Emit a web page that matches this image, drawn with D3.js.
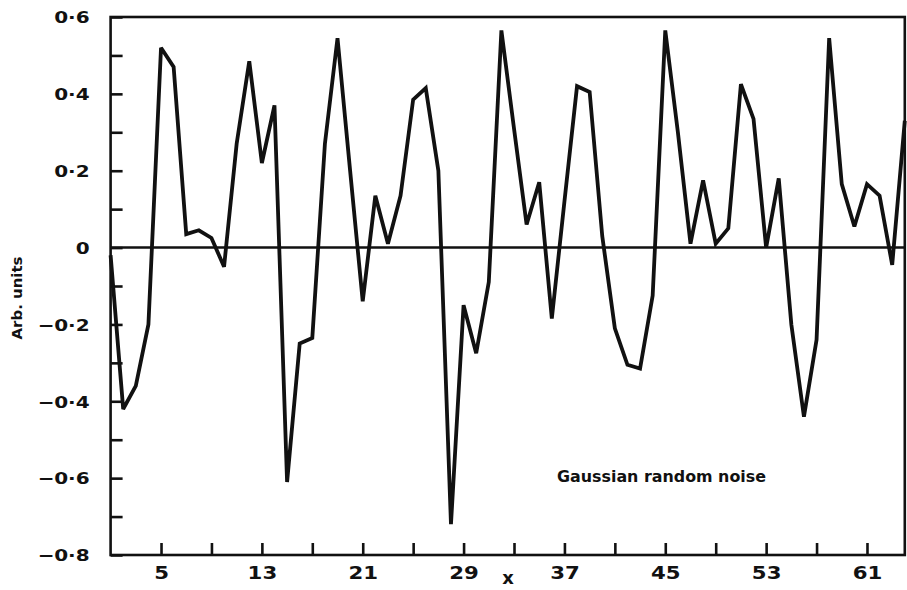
<!DOCTYPE html>
<html>
<head>
<meta charset="utf-8">
<script src="https://cdn.jsdelivr.net/npm/d3@7"></script>
<style>
  html, body { margin: 0; padding: 0; background: #fff; }
  svg { display: block; }
  text { font-family: "DejaVu Sans", "Liberation Sans", sans-serif; font-weight: bold; fill: #111; }
</style>
</head>
<body>
<svg id="chart" width="907" height="590"></svg>
<script>
// Sample index (x) and noise amplitude (arbitrary units)
const sampleIndex = d3.range(1, 65);
const noiseValues = [
  -0.02, -0.42, -0.36, -0.20, 0.52, 0.47, 0.035, 0.045, 0.025, -0.05,
  0.27, 0.485, 0.22, 0.37, -0.61, -0.25, -0.235, 0.27, 0.545, 0.20,
  -0.14, 0.135, 0.01, 0.135, 0.385, 0.415, 0.20, -0.72, -0.15, -0.275,
  -0.09, 0.565, 0.31, 0.06, 0.17, -0.185, 0.12, 0.42, 0.405, 0.03,
  -0.21, -0.305, -0.315, -0.125, 0.565, 0.30, 0.01, 0.175, 0.01, 0.05,
  0.425, 0.335, 0.0, 0.18, -0.20, -0.44, -0.24, 0.545, 0.165, 0.055,
  0.165, 0.135, -0.045, 0.33
];
const xTickValues = [5, 9, 13, 17, 21, 25, 29, 33, 37, 41, 45, 49, 53, 57, 61];
const xTickLabels = [5, 13, 21, 29, 37, 45, 53, 61];
const yTickValues = [-0.8, -0.7, -0.6, -0.5, -0.4, -0.3, -0.2, -0.1, 0, 0.1, 0.2, 0.3, 0.4, 0.5, 0.6];
const yTickLabels = [-0.8, -0.6, -0.4, -0.2, 0, 0.2, 0.4, 0.6];

const svg = d3.select("#chart");
const ink = "#111";

const x = d3.scaleLinear().domain([1, 64]).range([110.6, 904.8]);
const y = d3.scaleLinear().domain([-0.8, 0.6]).range([555, 17]);

const isLabelled = (list, v) => list.some(t => Math.abs(t - v) < 1e-9);
const fmtY = v => {
  if (Math.abs(v) < 1e-9) return "0";
  return (v < 0 ? "\u22120\u00b7" : "0\u00b7") + Math.round(Math.abs(v) * 10);
};

// Left axis: inward ticks every 0.1, labels every 0.2
const yAxis = svg.append("g")
  .attr("transform", `translate(${x(1)},0)`)
  .call(d3.axisLeft(y)
    .tickValues(yTickValues)
    .tickSizeInner(-12)
    .tickSizeOuter(0)
    .tickPadding(21)
    .tickFormat(v => isLabelled(yTickLabels, v) ? fmtY(v) : ""));
yAxis.select(".domain").remove();
yAxis.selectAll(".tick line").attr("stroke", ink).attr("stroke-width", 2.6);
yAxis.selectAll(".tick text")
  .attr("fill", ink)
  .style("font-size", "16px")
  .attr("dy", "0.36em");

// Bottom axis: inward ticks every 4, labels every 8
const xAxis = svg.append("g")
  .attr("transform", `translate(0,${y(-0.8)})`)
  .call(d3.axisBottom(x)
    .tickValues(xTickValues)
    .tickSizeInner(-12)
    .tickSizeOuter(0)
    .tickPadding(12)
    .tickFormat(v => xTickLabels.includes(v) ? String(v) : ""));
xAxis.select(".domain").remove();
xAxis.selectAll(".tick line").attr("stroke", ink).attr("stroke-width", 2.6);
xAxis.selectAll(".tick text")
  .attr("fill", ink)
  .style("font-size", "17px");

// Widen the heavy tick lettering
svg.selectAll(".tick text").each(function () {
  const w = this.getComputedTextLength();
  if (w > 0) d3.select(this).attr("textLength", w * 1.25).attr("lengthAdjust", "spacingAndGlyphs");
});

// Frame
svg.append("rect")
  .attr("x", x(1)).attr("y", y(0.6))
  .attr("width", x(64) - x(1)).attr("height", y(-0.8) - y(0.6))
  .attr("fill", "none").attr("stroke", ink).attr("stroke-width", 2.6);

// Zero line
svg.append("line")
  .attr("x1", x(1)).attr("x2", x(64))
  .attr("y1", y(0)).attr("y2", y(0))
  .attr("stroke", ink).attr("stroke-width", 2.4);

// Noise trace
const line = d3.line()
  .x((d, i) => x(sampleIndex[i]))
  .y(d => y(d));
svg.append("path")
  .datum(noiseValues)
  .attr("d", line)
  .attr("fill", "none")
  .attr("stroke", ink)
  .attr("stroke-width", 3.8)
  .attr("stroke-linejoin", "miter")
  .attr("stroke-miterlimit", 3);

// Axis titles and annotation
svg.append("text")
  .attr("x", 508).attr("y", 584)
  .attr("text-anchor", "middle")
  .style("font-size", "18px")
  .text("x");

svg.append("text")
  .attr("transform", "translate(22,298) rotate(-90)")
  .attr("text-anchor", "middle")
  .style("font-size", "14px")
  .attr("textLength", 83)
  .attr("lengthAdjust", "spacingAndGlyphs")
  .text("Arb. units");

svg.append("text")
  .attr("x", 557).attr("y", 482)
  .style("font-size", "16px")
  .attr("textLength", 209)
  .attr("lengthAdjust", "spacingAndGlyphs")
  .text("Gaussian random noise");
</script>
</body>
</html>
